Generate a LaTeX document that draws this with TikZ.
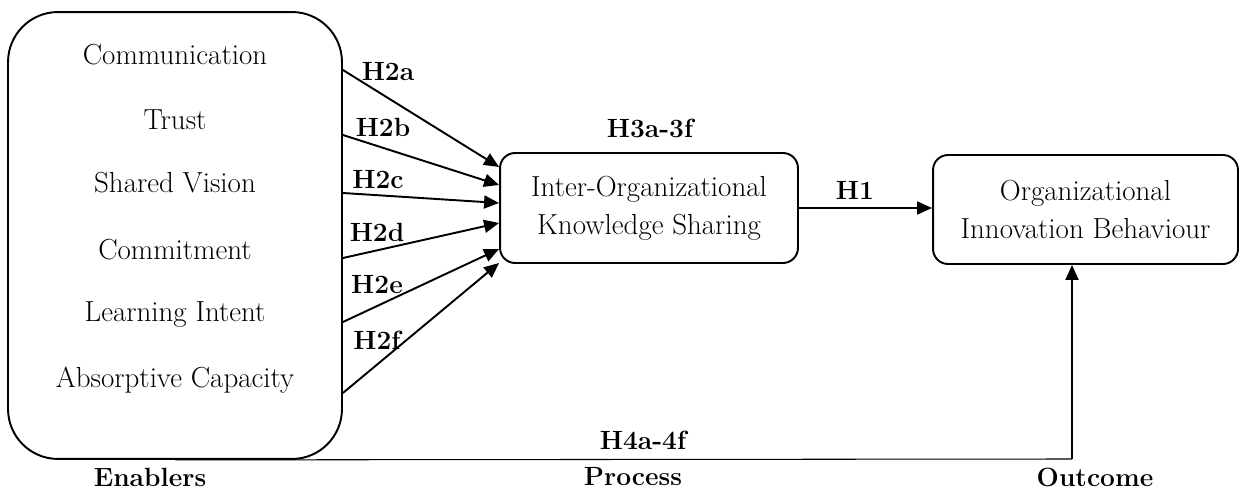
\documentclass[tikz,border=0pt]{standalone}
\usetikzlibrary{arrows.meta,calc}

\tikzset{
  every node/.style={font=\fontsize{16.5}{21.5}\selectfont},
  box/.style={draw,line width=1.1pt,rounded corners=0.3cm,align=center},
  hyp/.style={font=\fontsize{15}{21}\selectfont\bfseries},
  arr/.style={line width=1.1pt,-{Triangle[length=0.3cm,width=0.26cm]}}
}

\begin{document}
\begin{tikzpicture}[x=0.02cm,y=-0.02cm]
\useasboundingbox (0,0) rectangle (1244,489);
% boxes
\node[box,rounded corners=1cm,minimum width=6.68cm,minimum height=8.94cm] (enab) at (175,235.5) {};
\node[box,minimum width=5.96cm,minimum height=2.2cm] (iks) at (649,208)
  {Inter-Organizational\\Knowledge Sharing};
\node[box,minimum width=6.1cm,minimum height=2.18cm] (oib) at (1085.5,209.5)
  {Organizational\\Innovation Behaviour};
% enablers
\node (c1) at (175,55) {Communication};
\node (c2) at (175,120) {Trust};
\node (c3) at (175,183) {Shared Vision};
\node (c4) at (175,250) {Commitment};
\node (c5) at (175,315) {Learning Intent};
\node (c6) at (175,380) {Absorptive Capacity};
% H2 paths
\draw[arr] ($(enab.east |- c1)+(0,15)$) -- ($(iks.west)+(0,-41)$);
\draw[arr] ($(enab.east |- c2)+(0,15)$) -- ($(iks.west)+(0,-23)$);
\draw[arr] ($(enab.east |- c3)+(0,10)$) -- ($(iks.west)+(0,-5)$);
\draw[arr] ($(enab.east |- c4)+(0,8)$) -- ($(iks.west)+(0,15)$);
\draw[arr] ($(enab.east |- c5)+(0,7)$) -- ($(iks.west)+(0,41)$);
\draw[arr] ($(enab.east |- c6)+(0,13)$) -- ($(iks.west)+(0,55)$);
\node[hyp] (h2a) at (388,72) {H2a};
\node[hyp] (h2b) at (383,127) {H2b};
\node[hyp] (h2c) at (378,180) {H2c};
\node[hyp] (h2d) at (377,232) {H2d};
\node[hyp] (h2e) at (377,285) {H2e};
\node[hyp] (h2f) at (377,340) {H2f};
% H1 and H3
\draw[arr] (iks.east) -- (iks.east -| oib.west);
\node[hyp] (h1) at (855,190) {H1};
\node[hyp] (h3) at (650,128) {H3a-3f};
% H4 path
\coordinate (corner) at (1072,459);
\draw[line width=0.6pt] (enab.south) -- (corner);
\draw[arr] (corner) -- (corner |- oib.south);
\node[hyp] (h4) at (643,440) {H4a-4f};
% stages
\node[hyp] (st1) at (150,477) {Enablers};
\node[hyp] (st2) at (633,477) {Process};
\node[hyp] (st3) at (1095,477) {Outcome};
\end{tikzpicture}
\end{document}
